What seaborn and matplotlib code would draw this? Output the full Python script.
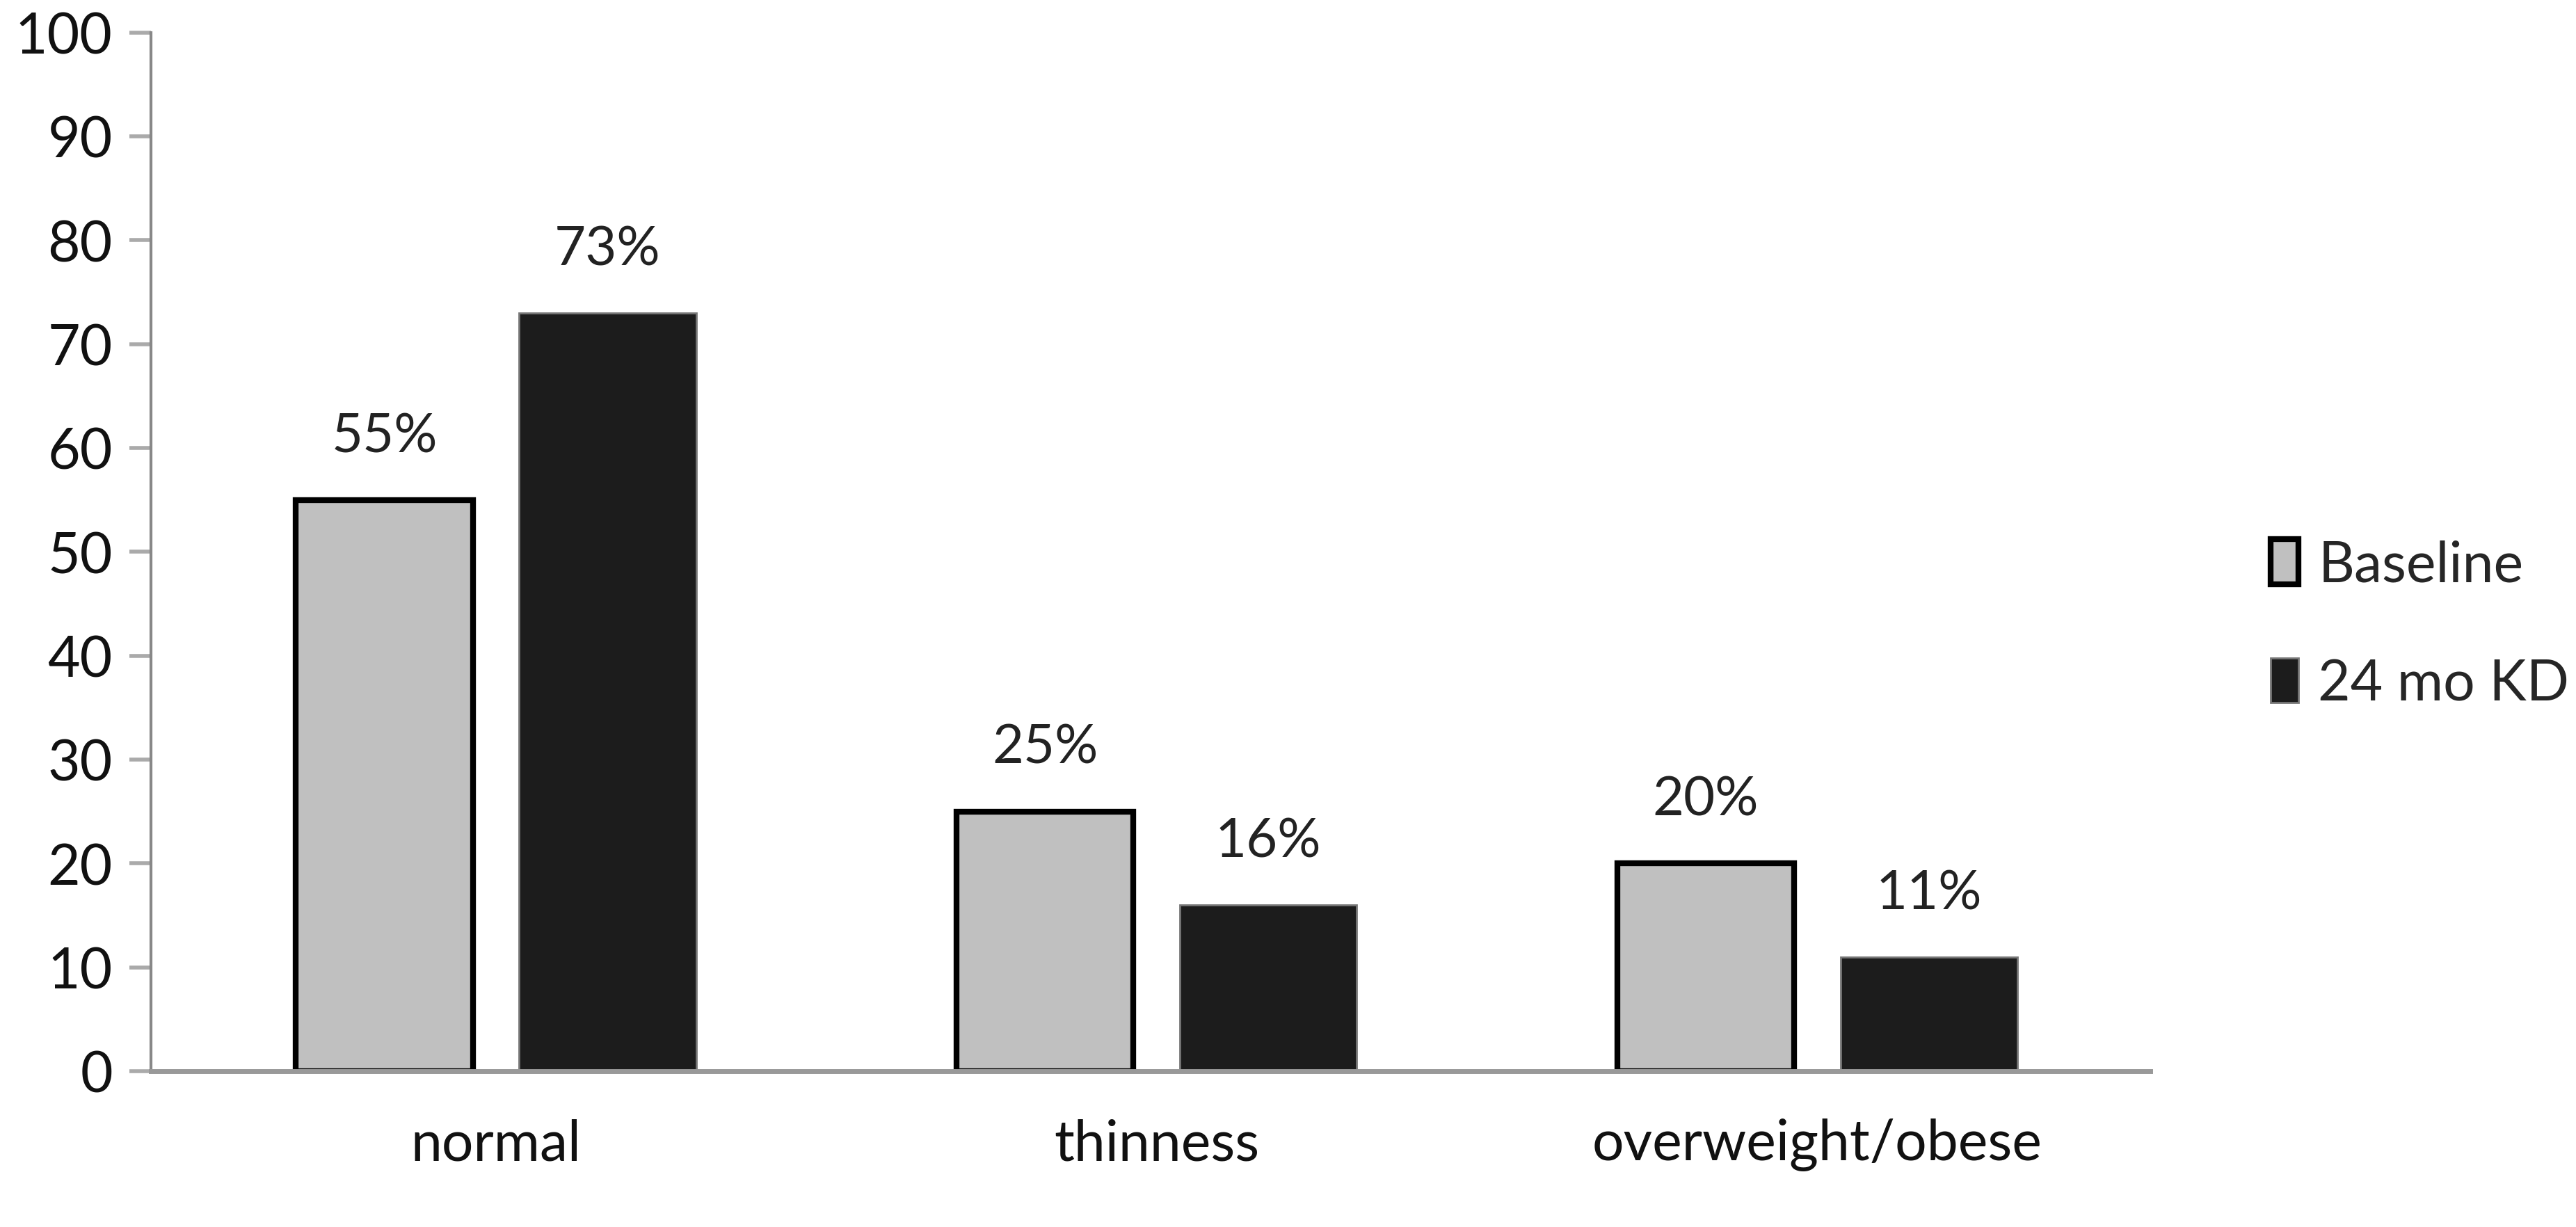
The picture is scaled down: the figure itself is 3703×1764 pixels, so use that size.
import pandas as pd
import seaborn as sns
import matplotlib.pyplot as plt
from matplotlib.patches import Patch

categories = ["normal", "thinness", "overweight/obese"]
groups = ["Baseline", "24 mo KD"]
baseline = [55, 25, 20]
kd_24mo = [73, 16, 11]

df = pd.DataFrame({
    "category": categories * 2,
    "group": [groups[0]] * 3 + [groups[1]] * 3,
    "value": baseline + kd_24mo,
})

sns.set_style("white")
plt.rcParams["font.family"] = ["Lato", "DejaVu Sans"]

fig = plt.figure(figsize=(37.03, 17.65), dpi=100)
ax = fig.add_axes([0.0587, 0.127, 0.776, 0.846])

fills = {"Baseline": "#c0c0c0", "24 mo KD": "#1c1c1c"}
edges = ["black", "#777777"]
widths = [6, 2]

sns.barplot(data=df, x="category", y="value", hue="group",
            palette=fills, width=0.676, gap=0.207, ax=ax, legend=False)

# edge styles per series
for bars, ec, lw in zip(ax.containers, edges, widths):
    for b in bars:
        b.set_edgecolor(ec)
        b.set_linewidth(lw)
    ax.bar_label(bars, labels=[f"{v:.0f}%" for v in bars.datavalues],
                 padding=40, fontsize=56, color="#222222")

ax.set_ylim(0, 100)
ax.set_yticks(range(0, 101, 10))
ax.set_xlim(-0.522, 2.504)
ax.set_xlabel("")
ax.set_ylabel("")

for s in ["top", "right"]:
    ax.spines[s].set_visible(False)
ax.spines["left"].set_color("#888888")
ax.spines["left"].set_linewidth(3)
ax.spines["bottom"].set_color("#999999")
ax.spines["bottom"].set_linewidth(5)

ax.tick_params(axis="y", left=True, length=22, width=4, color="#aaaaaa",
               labelsize=58, pad=18, labelcolor="#111111")
ax.tick_params(axis="x", bottom=False, labelsize=58, pad=45, labelcolor="#111111")

handles = [Patch(facecolor=fills[g], edgecolor=ec, linewidth=lw, label=g)
           for g, ec, lw in zip(groups, edges, widths)]
ax.legend(handles=handles, loc="center left", bbox_to_anchor=(1.035, 0.43),
          frameon=False, fontsize=58, handlelength=0.5, handleheight=0.85,
          handletextpad=0.35, labelspacing=1.2)

fig.savefig("out.png", dpi=100, facecolor="white")
